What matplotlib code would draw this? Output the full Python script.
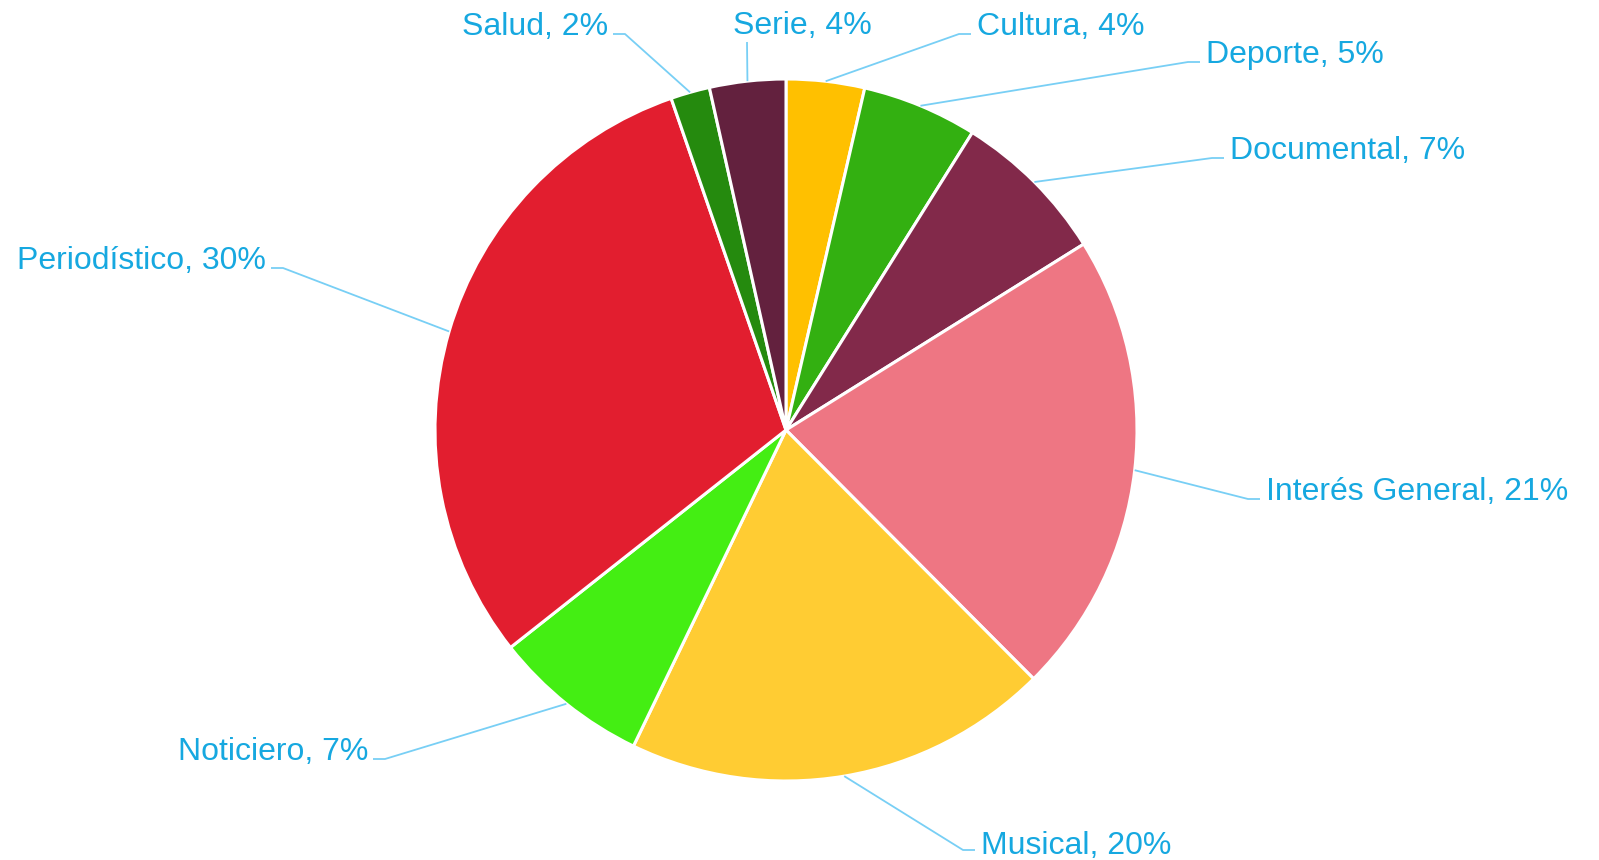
import numpy as np
import matplotlib
matplotlib.use("Agg")
import matplotlib.pyplot as plt

# ---- data ----
categories = ["Cultura", "Deporte", "Documental", "Interés General", "Musical",
              "Noticiero", "Periodístico", "Salud", "Serie"]
values = [3.6, 5.3, 7.2, 21.4, 19.6, 7.2, 30.3, 1.8, 3.5]
pct_labels = ["4%", "5%", "7%", "21%", "20%", "7%", "30%", "2%", "4%"]
colors = ["#FFC000", "#33B011", "#82294A", "#EE7683", "#FFCC33",
          "#44EE13", "#E21E2F", "#258A0E", "#63213E"]

# ---- layout (pixel coords, y measured from top) ----
W, H = 1599, 860
CX, CY, R = 786, 430, 351
# elbow point of each connector and horizontal direction of its short tail
elbow_x = [959, 1188, 1212, 1248, 963, 385, 283, 625, 747]
elbow_y = [34, 62, 158, 499, 850, 759, 268, 34, 42]
tail_dir = [1, 1, 1, 1, 1, -1, -1, -1, 0]
text_dy = [0, 0, 0, 0, 3, 0, 0, 0, 0]
text_color = "#16A8E0"
line_color = "#78CFF5"
FONT = "Liberation Sans"
FS = 23

fig = plt.figure(figsize=(W / 100, H / 100), dpi=100)
ax = fig.add_axes([0, 0, 1, 1])

ax.pie(values, colors=colors, startangle=90, counterclock=False,
       center=(CX, H - CY), radius=R,
       wedgeprops=dict(edgecolor="white", linewidth=2.2, antialiased=True))
ax.set_xlim(0, W)
ax.set_ylim(0, H)
ax.set_aspect("equal")
ax.axis("off")

total = sum(values)
cum = 0.0
for i, (cat, v) in enumerate(zip(categories, values)):
    mid = (cum + v / 2) / total * 2 * np.pi
    cum += v
    sx = CX + R * np.sin(mid)
    sy = (H - CY) + R * np.cos(mid)
    ex, ey = elbow_x[i], H - elbow_y[i]
    d = tail_dir[i]
    tx = ex + 12 * d
    ax.plot([sx, ex, tx], [sy, ey, ey], color=line_color, lw=1.3,
            solid_capstyle="butt", zorder=1)
    label = f"{cat}, {pct_labels[i]}"
    ty = ey - 1 - text_dy[i]
    if d > 0:
        ax.text(tx + 6, ty, label, ha="left", va="baseline",
                color=text_color, fontsize=FS, family=FONT)
    elif d < 0:
        ax.text(tx - 5, ty, label, ha="right", va="baseline",
                color=text_color, fontsize=FS, family=FONT)
    else:
        ax.text(ex - 14, ey + 8, label, ha="left", va="baseline",
                color=text_color, fontsize=FS, family=FONT)

fig.savefig("out.png", dpi=100, facecolor="white")
